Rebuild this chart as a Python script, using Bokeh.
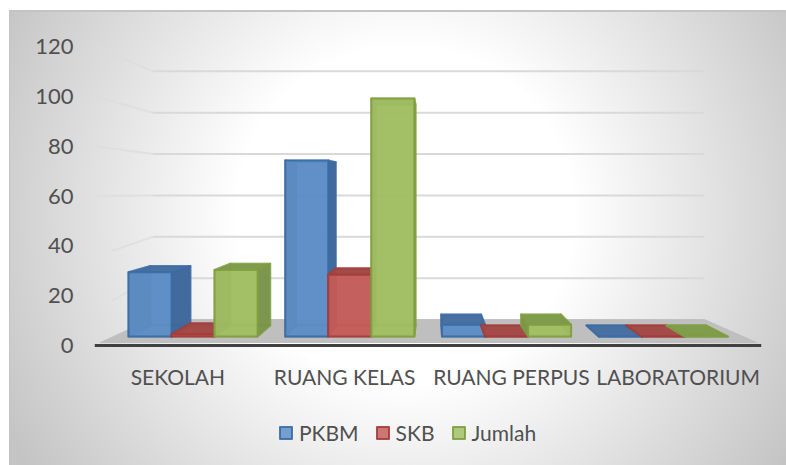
from bokeh.plotting import figure
from bokeh.models import Range1d, FactorRange, FixedTicker, Legend, LegendItem
from bokeh.embed import file_html
from bokeh.resources import INLINE

categories = ["SEKOLAH", "RUANG KELAS", "RUANG PERPUS", "LABORATORIUM"]
pkbm = [27, 74, 5, 0]
skb = [1, 26, 0, 0]
jumlah = [28, 100, 5, 0]
y_ticks = [0, 20, 40, 60, 80, 100, 120]
series_names = ["PKBM", "SKB", "Jumlah"]

FONT = "Lato"
TXT = "#505050"
W, H = 777, 455
ML, MR, MT, BELOW_ZERO = 85, 25, 24, 120
PX_Y = 2.49

# perspective model (units: category widths on the factor range's synthetic axis / axis values)
START, STEP, BW = 0.204, 0.94, 0.258
VX, VY, SHRINK = 2.02, 64.3, 0.0726
BASE, YS = 3.6, 0.956


def proj(cat, ser, side, val, depth):
    x = START + STEP * cat + BW * (ser + side)
    y = BASE + YS * val
    return x + (VX - x) * SHRINK * depth, y + (VY - y) * SHRINK * depth


def face(cat, ser, val, pts):
    c = [proj(cat, ser, s, val if t else 0, d) for s, t, d in pts]
    return [p[0] for p in c], [p[1] for p in c]


FACES = {
    "back": [(0, 0, 1), (1, 0, 1), (1, 1, 1), (0, 1, 1)],
    "floor": [(0, 0, 0), (1, 0, 0), (1, 0, 1), (0, 0, 1)],
    "left": [(0, 0, 0), (0, 0, 1), (0, 1, 1), (0, 1, 0)],
    "right": [(1, 0, 0), (1, 0, 1), (1, 1, 1), (1, 1, 0)],
    "top": [(0, 1, 0), (1, 1, 0), (1, 1, 1), (0, 1, 1)],
    "front": [(0, 0, 0), (1, 0, 0), (1, 1, 0), (0, 1, 0)],
}

p = figure(
    width=W, height=H, output_backend="svg", toolbar_location=None,
    x_range=FactorRange(factors=categories),
    y_range=Range1d(-BELOW_ZERO / PX_Y, (H - MT - BELOW_ZERO) / PX_Y),
    min_border_left=ML, min_border_right=MR, min_border_top=MT, min_border_bottom=0,
    background_fill_color=None, border_fill_color=None, outline_line_color=None,
    margin=(10, 0, 0, 9),
)
p.styles = {
    "background": "radial-gradient(circle 454px at 396px 205px, #ffffff 0%, #ffffff 37%, #c4c4c4 100%)",
    "box-shadow": "inset 1px 2px 0 0 #c4c4c4",
}
p.grid.visible = False

# axes
xa = p.xaxis[0]
xa.fixed_location = 0
xa.axis_line_color = "#404040"
xa.axis_line_width = 3
xa.major_tick_line_color = None
xa.minor_tick_line_color = None
xa.major_label_text_font = FONT
xa.major_label_text_font_size = "21px"
xa.major_label_text_color = TXT
xa.major_label_standoff = 12
xa.major_label_orientation = "horizontal"
ya = p.yaxis[0]
ya.ticker = FixedTicker(ticks=y_ticks)
ya.axis_line_color = None
ya.major_tick_line_color = None
ya.minor_tick_line_color = None
ya.major_label_text_font = FONT
ya.major_label_text_font_size = "22px"
ya.major_label_text_color = TXT
ya.major_label_standoff = 15

# walls: gridlines, back plane and side wall
SIDE_X0, WALL_X0, WALL_X1 = 0.006, 0.348, 3.658
wall = lambda v: 10.4 + 0.831 * v
grid_v = y_ticks[1:]
p.multi_line(
    xs=[[WALL_X0, WALL_X1] for _ in grid_v], ys=[[wall(v), wall(v)] for v in grid_v],
    line_color="#d9d9d9", line_width=2,
)
p.multi_line(
    xs=[[SIDE_X0 + (0.1 if v < 60 else 0), WALL_X0] for v in grid_v],
    ys=[[v - (2 if v < 60 else 0), wall(v)] for v in grid_v],
    line_color="#dcdcdc", line_width=2, line_alpha=0.75,
)

# floor
p.patch(x=[0.036, 3.972, 3.658, 0.336], y=[1.2, 1.2, wall(0), wall(0)],
        fill_color="#bfbfbf", line_color="#bfbfbf", line_width=1)

STYLES = [
    dict(line="#3a6ba5", front="#5f8fc8", side="#3f6799", top="#456f9f", inner="#5b88bd"),
    dict(line="#a43c3a", front="#c65f5c", side="#9c4443", top="#a04a48", inner="#b75957"),
    dict(line="#7f9f3f", front="#a3c065", side="#78924c", top="#7d9a4b", inner="#9dba62"),
]
fronts = []
for s, vals in enumerate([pkbm, skb, jumlah]):
    st = STYLES[s]
    for name in ["back", "floor", "left", "right", "top", "front"]:
        xs, ys = [], []
        for c, v in enumerate(vals):
            fx, fy = face(c, s, v, FACES[name])
            xs.append(fx)
            ys.append(fy)
        color = {"back": st["inner"], "floor": st["inner"], "left": st["side"],
                 "right": st["side"], "top": st["top"], "front": st["front"]}[name]
        r = p.patches(xs, ys, fill_color=color,
                      fill_alpha=0.85 if name == "front" else 0.92, line_color=st["line"], line_width=2,
                      line_alpha=0.9 if name == "front" else 0.6, line_join="round")
        if name == "front":
            fronts.append(r)

legend = Legend(
    items=[LegendItem(label=n, renderers=[r]) for n, r in zip(series_names, fronts)],
    orientation="horizontal", location=(184, 20),
    background_fill_alpha=0, border_line_color=None,
    glyph_width=15, glyph_height=15, label_standoff=6, spacing=16, padding=0, margin=0,
    label_text_font=FONT, label_text_font_size="21px", label_text_color=TXT,
)
p.add_layout(legend, "center")

open("out.html", "w").write(file_html(p, INLINE))
